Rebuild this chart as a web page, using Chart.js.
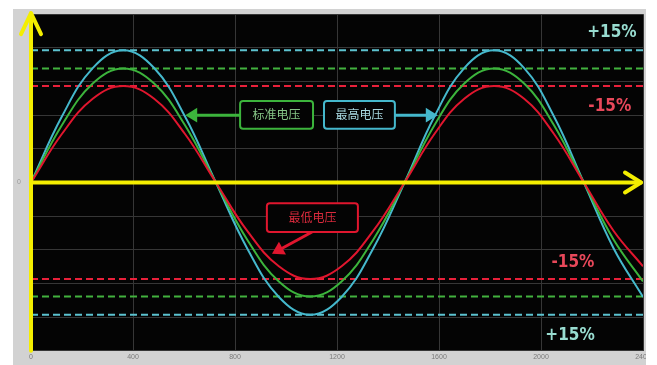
<!DOCTYPE html>
<html>
<head>
<meta charset="utf-8">
<script src="https://cdn.jsdelivr.net/npm/chart.js@4/dist/chart.umd.min.js"></script>
<style>
  body { margin: 0; background: #fff; }
</style>
</head>
<body>
<canvas id="chart" width="657" height="365"></canvas>
<script>
"use strict";
// sample positions (zero crossings ~725, ~1465, ~2168)
const xs = [0, 121, 242, 362, 483, 604, 725, 848, 972, 1095, 1218, 1342, 1465,
  1582, 1699, 1816, 1934, 2051, 2168, 2285, 2400];
const highV = [0, 1.96, 3.4, 3.93, 3.4, 1.96, 0, -1.96, -3.4, -3.93, -3.4, -1.96, 0,
  1.96, 3.4, 3.93, 3.4, 1.96, 0, -1.96, -3.4];
const normV = [0, 1.7, 2.94, 3.39, 2.94, 1.7, 0, -1.7, -2.94, -3.39, -2.94, -1.7, 0,
  1.7, 2.94, 3.39, 2.94, 1.7, 0, -1.7, -2.94];
const lowV = [0, 1.44, 2.49, 2.87, 2.49, 1.44, 0, -1.44, -2.49, -2.87, -2.49, -1.44, 0,
  1.44, 2.49, 2.87, 2.49, 1.44, 0, -1.44, -2.49];

// dashed limit lines (+/-15%)
const limitX = [0, 2400];
const highBand = [3.93, -3.93];
const normBand = [3.39, -3.39];
const lowBand = [2.87, -2.87];

const xTicks = [0, 400, 800, 1200, 1600, 2000, 2400];
const boxLabels = ["标准电压", "最高电压", "最低电压"];
const pctLabels = ["+15%", "-15%"];

const CYAN = "#45b8cc";
const GREEN = "#3cb43c";
const RED = "#e0162e";

const curve = (vals, color) => ({
  data: xs.map((x, i) => ({ x: x, y: vals[i] })),
  borderColor: color,
  borderWidth: 2,
  pointRadius: 0,
  tension: 0.4,
  fill: false,
});

const dashed = (level, color) => ({
  data: limitX.map((x) => ({ x: x, y: level })),
  borderColor: color,
  borderWidth: 2,
  borderDash: [7, 4],
  pointRadius: 0,
  fill: false,
});

const datasets = [curve(lowV, RED), curve(normV, GREEN), curve(highV, CYAN)];
highBand.forEach((v) => datasets.push(dashed(v, "#5cc2cf")));
normBand.forEach((v) => datasets.push(dashed(v, "#42b23e")));
lowBand.forEach((v) => datasets.push(dashed(v, "#e8203a")));

const arrowHead = (ctx, fx, fy, tx, ty, size) => {
  const ang = Math.atan2(ty - fy, tx - fx);
  ctx.beginPath();
  ctx.moveTo(tx, ty);
  ctx.lineTo(tx - size * Math.cos(ang - 0.55), ty - size * Math.sin(ang - 0.55));
  ctx.lineTo(tx - size * Math.cos(ang + 0.55), ty - size * Math.sin(ang + 0.55));
  ctx.closePath();
  ctx.fill();
};

const decor = {
  id: "decor",
  beforeDraw(chart) {
    const { ctx, chartArea: a } = chart;
    ctx.save();
    ctx.fillStyle = "#d2d2d2";
    ctx.fillRect(13, 9, 633, 356);
    ctx.fillStyle = "#040404";
    ctx.fillRect(a.left, a.top, a.right - a.left, a.bottom - a.top);
    ctx.restore();
  },
  afterDatasetsDraw(chart) {
    const { ctx, chartArea: a, scales: { x, y } } = chart;
    const x0 = x.getPixelForValue(0);
    const y0 = y.getPixelForValue(0);
    ctx.save();

    // yellow axes with arrows
    ctx.strokeStyle = "#f4ee00";
    ctx.lineWidth = 4;
    ctx.lineCap = "round";
    ctx.lineJoin = "round";
    ctx.beginPath();
    ctx.moveTo(x0, a.bottom);
    ctx.lineTo(x0, a.top - 1);
    ctx.stroke();
    ctx.beginPath();
    ctx.moveTo(x0 - 10, a.top + 20);
    ctx.lineTo(x0, a.top - 1);
    ctx.lineTo(x0 + 10, a.top + 20);
    ctx.stroke();
    ctx.beginPath();
    ctx.moveTo(x0, y0);
    ctx.lineTo(a.right - 2, y0);
    ctx.stroke();
    ctx.beginPath();
    ctx.moveTo(a.right - 18, y0 - 10);
    ctx.lineTo(a.right - 2, y0);
    ctx.lineTo(a.right - 18, y0 + 10);
    ctx.stroke();

    // labelled boxes
    const box = (text, x1, x2, y1, y2, color, textColor) => {
      const l = x.getPixelForValue(x1), r = x.getPixelForValue(x2);
      const t = y.getPixelForValue(y1), b = y.getPixelForValue(y2);
      ctx.fillStyle = "#040404";
      ctx.strokeStyle = color;
      ctx.lineWidth = 2;
      ctx.beginPath();
      ctx.roundRect(l, t, r - l, b - t, 3);
      ctx.fill();
      ctx.stroke();
      ctx.fillStyle = textColor;
      ctx.font = "12px 'Noto Sans CJK SC'";
      ctx.textAlign = "center";
      ctx.textBaseline = "middle";
      ctx.fillText(text, (l + r) / 2, (t + b) / 2);
    };
    const arrow = (fx, fy, tx, ty, color) => {
      const ax = x.getPixelForValue(fx), ay = y.getPixelForValue(fy);
      const bx = x.getPixelForValue(tx), by = y.getPixelForValue(ty);
      ctx.strokeStyle = color;
      ctx.fillStyle = color;
      ctx.lineWidth = 3;
      ctx.lineCap = "butt";
      const ang = Math.atan2(by - ay, bx - ax);
      ctx.beginPath();
      ctx.moveTo(ax, ay);
      ctx.lineTo(bx - 8 * Math.cos(ang), by - 8 * Math.sin(ang));
      ctx.stroke();
      arrowHead(ctx, ax, ay, bx, by, 14);
    };

    arrow(820, 2.0, 605, 2.0, GREEN);
    box(boxLabels[0], 820, 1106, 2.42, 1.6, GREEN, "#86c486");
    arrow(1427, 2.0, 1595, 2.0, CYAN);
    box(boxLabels[1], 1149, 1427, 2.42, 1.6, CYAN, "#a8d8e0");
    arrow(1102, -1.47, 945, -2.12, RED);
    box(boxLabels[2], 925, 1282, -0.62, -1.47, RED, "#d82a3c");

    // percent labels
    ctx.font = "bold 17px 'DejaVu Sans Condensed', 'DejaVu Sans'";
    ctx.textAlign = "center";
    ctx.textBaseline = "middle";
    ctx.fillStyle = "#98dcd0";
    ctx.fillText(pctLabels[0], x.getPixelForValue(2278), y.getPixelForValue(4.44));
    ctx.fillText(pctLabels[0], x.getPixelForValue(2114), y.getPixelForValue(-4.56));
    ctx.fillStyle = "#e8485a";
    ctx.fillText(pctLabels[1], x.getPixelForValue(2270), y.getPixelForValue(2.27));
    ctx.fillText(pctLabels[1], x.getPixelForValue(2125), y.getPixelForValue(-2.38));
    ctx.restore();
  },
  afterDraw(chart) {
    // photo frame ends here, cutting the last tick label
    const { ctx } = chart;
    ctx.save();
    ctx.fillStyle = "#fff";
    ctx.fillRect(646, 0, 11, 365);
    ctx.restore();
  },
};

new Chart(document.getElementById("chart"), {
  type: "line",
  data: { datasets: datasets },
  plugins: [decor],
  options: {
    responsive: false,
    animation: false,
    layout: { padding: { left: 13, top: 12, right: 14, bottom: 0 } },
    plugins: { legend: { display: false }, tooltip: { enabled: false } },
    scales: {
      x: {
        type: "linear",
        min: xTicks[0],
        max: xTicks[xTicks.length - 1],
        afterBuildTicks: (scale) => {
          scale.ticks = xTicks.map((v) => ({ value: v }));
        },
        afterFit: (scale) => {
          scale.height = 12;
        },
        ticks: {
          color: "#7a7a7a",
          font: { size: 7 },
          padding: 2,
          maxRotation: 0,
          autoSkip: false,
          callback: (v) => String(v),
        },
        grid: { color: "#363636", drawTicks: false },
        border: { display: false },
      },
      y: {
        min: -5,
        max: 5,
        afterFit: (scale) => {
          scale.width = 18;
        },
        ticks: {
          stepSize: 1,
          color: "#9a9a9a",
          font: { size: 7 },
          padding: 10,
          callback: (v) => (v === 0 ? "0" : ""),
        },
        grid: { color: "#363636", drawTicks: false },
        border: { display: false },
      },
    },
  },
});
</script>
</body>
</html>
